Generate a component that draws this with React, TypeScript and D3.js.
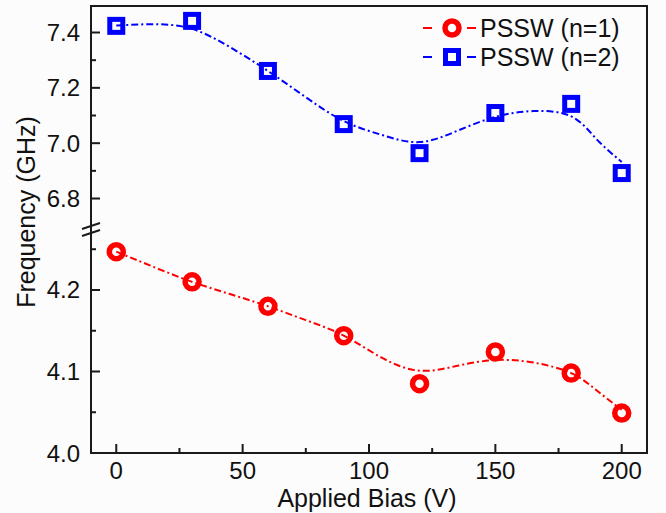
import React from 'react';
import * as d3 from 'd3';

// measured data points
const bias = [0, 30, 60, 90, 120, 150, 180, 200];
const pssw1 = [4.247, 4.21, 4.18, 4.144, 4.085, 4.124, 4.098, 4.049];
const pssw2 = [7.424, 7.442, 7.261, 7.069, 6.964, 7.109, 7.142, 6.892];

// smoothed guide curves
const fitBias = [0, 15, 30, 45, 60, 75, 90, 105, 120, 135, 150, 165, 180, 190, 200];
const fit1 = [4.247, 4.228, 4.21, 4.195, 4.18, 4.163, 4.144, 4.117, 4.101, 4.107, 4.114, 4.111, 4.098, 4.077, 4.053];
const fit2 = [7.425, 7.43, 7.413, 7.347, 7.261, 7.166, 7.08, 7.03, 7.004, 7.045, 7.095, 7.116, 7.097, 7.015, 6.932];

const xTicks = [0, 50, 100, 150, 200];
const xMinor = [25, 75, 125, 175];
const lowTicks = [4.0, 4.1, 4.2];
const lowMinor = [4.05, 4.15, 4.25];
const highTicks = [6.8, 7.0, 7.2, 7.4];
const highMinor = [6.9, 7.1, 7.3];

const series = ['PSSW (n=1)', 'PSSW (n=2)'];
const colors = ['#ff0000', '#0000ff'];

const W = 666;
const H = 513;
const left = 91;
const right = 647;
const top = 6;
const bottom = 453;
const breakY = 230;
const font = "'Liberation Sans', Arial, sans-serif";
const dash = '7,3,2,3';

export default function App() {
  const x = d3.scaleLinear().domain([-10, 210]).range([left, right]);
  const yLow = d3.scaleLinear().domain([4.0, 4.2736]).range([bottom, breakY]);
  const yHigh = d3.scaleLinear().domain([6.6862, 7.4958]).range([breakY, top]);

  const line1 = d3.line<number>()
    .x((d, i) => x(fitBias[i]))
    .y(d => yLow(d))
    .curve(d3.curveNatural);
  const line2 = d3.line<number>()
    .x((d, i) => x(fitBias[i]))
    .y(d => yHigh(d))
    .curve(d3.curveNatural);

  const axisColor = '#1a1a1a';

  return (
    <svg width={W} height={H} style={{ position: 'absolute', left: 0, top: 0, background: '#fcfcfc' }}
      fontFamily={font}>
      <rect x={0} y={0} width={W} height={H} fill="#fcfcfc" />

      {/* curves */}
      <path d={line1(fit1) || ''} fill="none" stroke={colors[0]} strokeWidth={2} strokeDasharray={dash} />
      <path d={line2(fit2) || ''} fill="none" stroke={colors[1]} strokeWidth={2} strokeDasharray={dash} />

      {/* markers */}
      {pssw1.map((v, i) => (
        <circle key={'c' + i} cx={x(bias[i])} cy={yLow(v)} r={7} fill="none" stroke={colors[0]} strokeWidth={5.5} />
      ))}
      {pssw2.map((v, i) => (
        <rect key={'s' + i} x={x(bias[i]) - 6.5} y={yHigh(v) - 6.5} width={13} height={13}
          fill="none" stroke={colors[1]} strokeWidth={5} />
      ))}

      {/* frame */}
      <rect x={left} y={top} width={right - left} height={bottom - top} fill="none" stroke={axisColor} strokeWidth={2} />

      {/* x ticks */}
      {xTicks.map(t => (
        <g key={'xt' + t}>
          <line x1={x(t)} x2={x(t)} y1={bottom} y2={bottom - 9} stroke={axisColor} strokeWidth={2} />
          <text x={x(t)} y={479} textAnchor="middle" fontSize={24} fill="#111">{t}</text>
        </g>
      ))}
      {xMinor.map(t => (
        <line key={'xm' + t} x1={x(t)} x2={x(t)} y1={bottom} y2={bottom - 5} stroke={axisColor} strokeWidth={2} />
      ))}

      {/* y ticks lower */}
      {lowTicks.map(t => (
        <g key={'lt' + t}>
          <line x1={left} x2={left + 9} y1={yLow(t)} y2={yLow(t)} stroke={axisColor} strokeWidth={2} />
          <text x={80} y={yLow(t) + 8.5} textAnchor="end" fontSize={24} fill="#111">{t.toFixed(1)}</text>
        </g>
      ))}
      {lowMinor.map(t => (
        <line key={'lm' + t} x1={left} x2={left + 5} y1={yLow(t)} y2={yLow(t)} stroke={axisColor} strokeWidth={2} />
      ))}

      {/* y ticks upper */}
      {highTicks.map(t => (
        <g key={'ht' + t}>
          <line x1={left} x2={left + 9} y1={yHigh(t)} y2={yHigh(t)} stroke={axisColor} strokeWidth={2} />
          <text x={80} y={yHigh(t) + 8.5} textAnchor="end" fontSize={24} fill="#111">{t.toFixed(1)}</text>
        </g>
      ))}
      {highMinor.map(t => (
        <line key={'hm' + t} x1={left} x2={left + 5} y1={yHigh(t)} y2={yHigh(t)} stroke={axisColor} strokeWidth={2} />
      ))}

      {/* axis break marks */}
      <line x1={82} y1={breakY - 1} x2={100} y2={breakY - 7} stroke={axisColor} strokeWidth={2} />
      <line x1={82} y1={breakY + 6} x2={100} y2={breakY} stroke={axisColor} strokeWidth={2} />

      {/* axis titles */}
      <text x={(left + right) / 2 - 2} y={507} textAnchor="middle" fontSize={25} fill="#111">Applied Bias (V)</text>
      <text transform={`translate(35, 212) rotate(-90)`} textAnchor="middle" fontSize={25} fill="#111">Frequency (GHz)</text>

      {/* legend */}
      {series.map((s, i) => {
        const ly = 28 + i * 29;
        return (
          <g key={'lg' + i}>
            <line x1={423} x2={432} y1={ly} y2={ly} stroke={colors[i]} strokeWidth={2} />
            <line x1={467} x2={476} y1={ly} y2={ly} stroke={colors[i]} strokeWidth={2} />
            {i === 0
              ? <circle cx={452} cy={ly} r={7} fill="none" stroke={colors[i]} strokeWidth={5.5} />
              : <rect x={445.5} y={ly - 6.5} width={13} height={13} fill="none" stroke={colors[i]} strokeWidth={5} />}
            <text x={480} y={ly + 9} fontSize={25} fill="#111">{s}</text>
          </g>
        );
      })}
    </svg>
  );
}
